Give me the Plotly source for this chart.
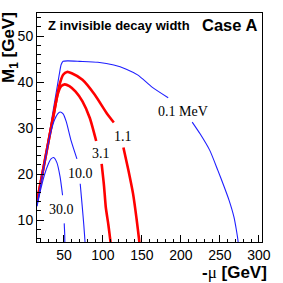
import plotly.graph_objects as go

# Contour curves: -mu [GeV] vs M1 [GeV]; None marks gaps where labels sit
mu_01 = [15.5, 30, 44, 46.5, 49, 55, 70, 93.5, 114, 130, 145, 163, 183.7, None,
         214.5, 224.8, 237.2, 247.4, 255.6, 261.8, 268, 271.2, 273.3, 273.6]
m1_01 = [13.2, 27.5, 41.6, 43.8, 44.5, 44.6, 44.5, 44.3, 43.7, 42.8, 41.5, 38.9, 36.6, None,
         31.3, 28.7, 25.1, 20.8, 17.2, 14.3, 10.7, 7.8, 5.4, 4.5]

mu_11 = [15.5, 31, 38, 44, 49, 54, 60, 73.8, 89.4, 105.8, 114.0, None,
         126.3, 132.5, 138.7, 143, 146.8, 147.2]
m1_11 = [14.0, 27.8, 34, 39.2, 41.6, 42.2, 41.9, 40.5, 37.3, 33.0, 31.2, None,
         25.8, 21.0, 15.7, 10.5, 5.2, 4.5]

mu_31 = [15.5, 31, 37, 42, 46.5, 51, 57, 65, 73.8, 83.2, 91.4, None,
         98.4, 101.5, 103.7, 107, 109.8, 110.1]
m1_31 = [14.0, 27.8, 33, 37.3, 39.1, 39.5, 39.1, 37.9, 35.8, 32.2, 27.2, None,
         22.2, 17.3, 12.8, 9.0, 5.2, 4.5]

mu_10 = [15.5, 22, 28, 33, 38, 42, 45.1, 49, 53, 59.3, 66.7, None,
         70.9, 73.5, 75.5, 77.1, 77.3]
m1_10 = [13.2, 19.5, 25, 29, 31.8, 33.1, 33.5, 33.1, 31.4, 27.2, 23.3, None,
         17.9, 13.0, 9.0, 5.2, 4.5]

mu_30 = [15.5, 20, 25, 30, 33.5, 36.8, 41, 45, 48.3, None, 50.4, 51.0, 51.2, 51.3]
m1_30 = [13.0, 16.5, 19.8, 22.2, 23.3, 23.6, 22.5, 19.5, 15.4, None, 9.3, 7.0, 5.2, 4.5]

labels = ["0.1 MeV", "1.1", "3.1", "10.0", "30.0"]
label_mu = [203, 125.5, 97, 71.5, 47.5]
label_m1 = [33.6, 28.1, 24.5, 20.2, 12.4]

x_ticks = [50, 100, 150, 200, 250, 300]
y_ticks = [10, 20, 30, 40, 50]

BLUE = "#1f1fff"
RED = "#ff0000"

fig = go.Figure()
curves = [(mu_01, m1_01, BLUE, 1.1), (mu_11, m1_11, RED, 2.6), (mu_31, m1_31, RED, 2.6),
          (mu_10, m1_10, BLUE, 1.1), (mu_30, m1_30, BLUE, 1.1)]
for xs, ys, c, w in curves:
    fig.add_trace(go.Scatter(x=xs, y=ys, mode="lines",
                             line=dict(color=c, width=w, shape="spline", smoothing=0.6),
                             connectgaps=False, showlegend=False, hoverinfo="skip"))

for t, xv, yv in zip(labels, label_mu, label_m1):
    fig.add_annotation(x=xv, y=yv, text=t, showarrow=False, xref="x", yref="y",
                       font=dict(family="Liberation Serif", size=14, color="black"))

fig.add_annotation(xref="paper", yref="paper", x=0.04, y=0.947, xanchor="left", yanchor="middle",
                   text="<b>Z invisible decay width</b>", showarrow=False,
                   font=dict(family="Liberation Sans", size=13, color="black"))
fig.add_annotation(xref="paper", yref="paper", x=0.985, y=0.946, xanchor="right", yanchor="middle",
                   text="<b>Case A</b>", showarrow=False,
                   font=dict(family="Liberation Sans", size=16.5, color="black"))

# axis titles
fig.add_annotation(xref="paper", yref="paper", x=-0.117, y=0.85, xanchor="center", yanchor="middle",
                   textangle=-90, text="<b>M<sub>1</sub> [GeV]</b>", showarrow=False,
                   font=dict(family="Liberation Sans", size=17, color="black"))
fig.add_annotation(xref="paper", yref="paper", x=1.03, y=-0.085, xanchor="right", yanchor="top",
                   text="<b>-</b><span style='font-family:Liberation Serif'>μ</span><b> [GeV]</b>",
                   showarrow=False, font=dict(family="Liberation Sans", size=17, color="black"))

fig.update_layout(
    width=283, height=283,
    margin=dict(l=37, r=12, t=12, b=41),
    paper_bgcolor="white", plot_bgcolor="white",
    font=dict(family="Liberation Sans", size=14, color="black"),
    xaxis=dict(range=[15.5, 304], tickvals=x_ticks, ticks="inside", ticklen=7, tickcolor="black",
               showline=True, linecolor="black", linewidth=1, mirror=True, showgrid=False, zeroline=False,
               minor=dict(ticks="inside", ticklen=3.5, dtick=10, tick0=0, tickcolor="black", showgrid=False),
               tickfont=dict(size=14)),
    yaxis=dict(range=[5.25, 55], tickvals=y_ticks, ticks="inside", ticklen=7, tickcolor="black",
               showline=True, linecolor="black", linewidth=1, mirror=True, showgrid=False, zeroline=False,
               minor=dict(ticks="inside", ticklen=3.5, dtick=2, tick0=0, tickcolor="black", showgrid=False),
               tickfont=dict(size=14)),
)

fig.write_html("out.html", config={"displayModeBar": False},
               post_script="document.body.style.margin='0';document.body.style.overflow='hidden';")
